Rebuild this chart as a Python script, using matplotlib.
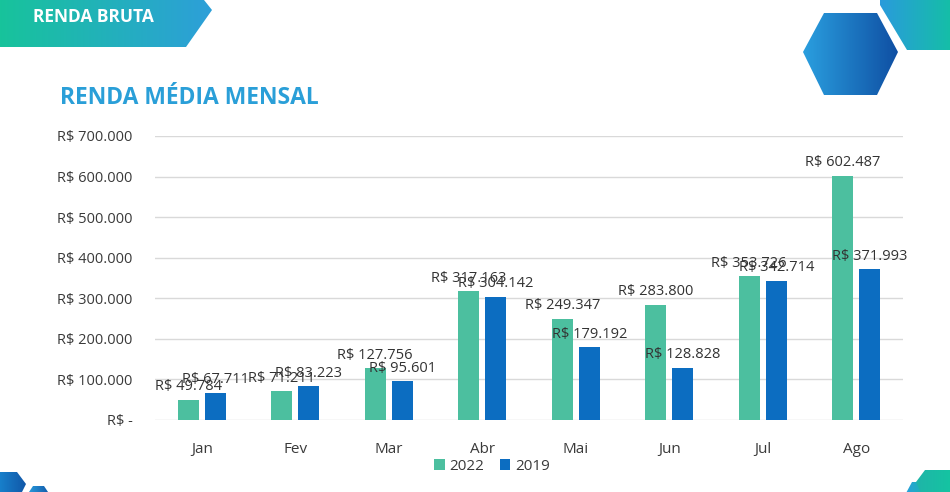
import matplotlib.pyplot as plt
import numpy as np
from matplotlib.patches import Polygon
from matplotlib.colors import LinearSegmentedColormap

meses = ['Jan', 'Fev', 'Mar', 'Abr', 'Mai', 'Jun', 'Jul', 'Ago']
renda_2022 = [49784, 71211, 127756, 317163, 249347, 283800, 353726, 602487]
renda_2019 = [67711, 83223, 95601, 304142, 179192, 128828, 342714, 371993]
yticks = [0, 100000, 200000, 300000, 400000, 500000, 600000, 700000]


def fmt_brl(v):
    if v == 0:
        return 'R$ -'
    return 'R$ ' + f'{v:,.0f}'.replace(',', '.')


def gradient_shape(ax, pts, c1, c2):
    # polygon filled with a left-to-right gradient
    pts = np.array(pts, dtype=float)
    x0, x1 = pts[:, 0].min(), pts[:, 0].max()
    y0, y1 = pts[:, 1].min(), pts[:, 1].max()
    cmap = LinearSegmentedColormap.from_list('g', [c1, c2])
    grad = np.linspace(0, 1, 256).reshape(1, -1)
    im = ax.imshow(grad, cmap=cmap, extent=(x0, x1, y1, y0), aspect='auto',
                   interpolation='bicubic', zorder=1)
    poly = Polygon(pts, closed=True, facecolor='none', edgecolor='none',
                   joinstyle='round')
    ax.add_patch(poly)
    im.set_clip_path(poly)


plt.rcParams['font.family'] = ['Open Sans', 'DejaVu Sans']

fig = plt.figure(figsize=(9.5, 4.92), dpi=100)

# decoration layer in pixel coordinates
bg = fig.add_axes([0, 0, 1, 1])
bg.set_xlim(0, 950)
bg.set_ylim(492, 0)
bg.axis('off')

gradient_shape(bg, [(-5, -5), (200, -5), (212, 10), (186, 47), (-5, 47)],
               '#17c49a', '#2d9fd9')
bg.text(33, 17, 'RENDA BRUTA', color='white', fontsize=12.5, fontweight='bold',
        va='center', ha='left', zorder=3)

gradient_shape(bg, [(803, 52), (824, 13), (877, 13), (898, 52), (877, 95), (824, 95)],
               '#2a9fdf', '#0f4fa3')
gradient_shape(bg, [(880, -5), (880, 5), (907, 50), (960, 50), (960, -5)],
               '#2a9bdc', '#12c3a0')
gradient_shape(bg, [(-10, 492), (-10, 472), (17, 472), (26, 484), (22, 492)],
               '#1a8fd8', '#1157a8')
gradient_shape(bg, [(27, 495), (33, 486), (44, 486), (50, 495)],
               '#2a9fdf', '#1157a8')
gradient_shape(bg, [(905, 495), (912, 482), (922, 482), (928, 495)],
               '#2a9fdf', '#18b8a8')
gradient_shape(bg, [(922, 495), (916, 482), (925, 470), (960, 470), (960, 495)],
               '#1fb5a8', '#12c8a0')

fig.text(60 / 950, 1 - 98 / 492, 'RENDA MÉDIA MENSAL', color='#2a9fd8',
         fontsize=16.5, fontweight='bold', va='center', ha='left')

ax = fig.add_axes([155 / 950, 1 - 420 / 492, 748 / 950, (420 - 136) / 492])
ax.set_facecolor('none')

x = np.arange(len(meses))
w = 0.225
off = 0.145
b1 = ax.bar(x - off, renda_2022, w, color='#4cbf9f', label='2022', zorder=2)
b2 = ax.bar(x + off, renda_2019, w, color='#0c6dc1', label='2019', zorder=2)

for bars in (b1, b2):
    for r in bars:
        v = r.get_height()
        ax.annotate(fmt_brl(v), (r.get_x() + r.get_width() / 2, v),
                    xytext=(0, 4), textcoords='offset points',
                    ha='center', va='bottom', fontsize=10.5, color='#333333',
                    zorder=3)

ax.set_xlim(-0.5, len(meses) - 0.5)
ax.set_ylim(0, 700000)
ax.set_yticks(yticks)
ax.set_yticklabels([fmt_brl(v) for v in yticks])
ax.set_xticks(x)
ax.set_xticklabels(meses)
ax.tick_params(axis='y', length=0, pad=16, labelsize=10.5, labelcolor='#3a3a3a')
ax.tick_params(axis='x', length=0, pad=16, labelsize=11, labelcolor='#3a3a3a')
ax.grid(axis='y', color='#d9d9d9', linewidth=1, zorder=0)
ax.set_axisbelow(True)
for s in ax.spines.values():
    s.set_visible(False)

fig.legend(handles=[b1, b2], labels=['2022', '2019'], loc='center',
           bbox_to_anchor=(492 / 950, 1 - 466 / 492), ncol=2, frameon=False,
           handlelength=0.7, handleheight=0.7, handletextpad=0.3,
           columnspacing=1.0, fontsize=11, labelcolor='#3a3a3a')

fig.savefig('out.png', dpi=100)
plt.close(fig)
